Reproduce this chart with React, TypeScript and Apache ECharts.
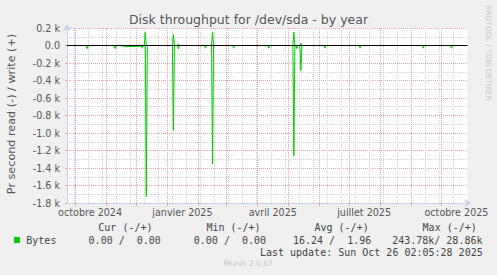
import React, { useEffect, useRef } from 'react';
import * as echarts from 'echarts';

const TITLE = 'Disk throughput for /dev/sda - by year';
const Y_NAME = 'Pr second read (-) / write (+)';
const SIDE_TEXT = 'RRDTOOL / TOBI OETIKER';
const VERSION = 'Munin 2.0.67';
const LAST_UPDATE = 'Last update: Sun Oct 26 02:05:28 2025';

const X_START = '2024-09-23';
const X_END = '2025-10-27';

// read (plotted negative), bytes per second
const readDates = [
  '2024-09-23', '2024-10-12', '2024-10-13', '2024-10-14',
  '2024-11-09', '2024-11-10', '2024-11-11',
  '2024-11-17', '2024-11-18', '2024-12-05', '2024-12-06', '2024-12-07', '2024-12-08',
  '2024-12-10', '2024-12-11', '2024-12-12',
  '2025-01-06', '2025-01-07', '2025-01-08',
  '2025-01-11', '2025-01-12', '2025-01-13',
  '2025-02-07', '2025-02-08', '2025-02-09',
  '2025-02-14', '2025-02-15', '2025-02-16',
  '2025-03-07', '2025-03-08', '2025-03-09',
  '2025-04-11', '2025-04-12', '2025-04-13',
  '2025-05-06', '2025-05-07', '2025-05-08',
  '2025-05-09', '2025-05-10', '2025-05-11',
  '2025-05-13', '2025-05-14', '2025-05-15',
  '2025-06-06', '2025-06-07', '2025-06-08',
  '2025-07-11', '2025-07-12', '2025-07-13',
  '2025-09-12', '2025-09-13', '2025-09-14',
  '2025-10-10', '2025-10-11', '2025-10-12',
  '2025-10-26',
];
const readValues = [
  0, 0, 35, 0,
  0, 35, 0,
  0, 10, 10, 0, 30, 0,
  0, 1725, 0,
  0, 970, 0,
  0, 40, 0,
  0, 30, 0,
  0, 1355, 0,
  0, 30, 0,
  0, 30, 0,
  0, 1260, 0,
  0, 35, 0,
  0, 285, 0,
  0, 30, 0,
  0, 30, 0,
  0, 30, 0,
  0, 30, 0,
  0,
];

// write (plotted positive)
const writeDates = [
  '2024-09-23',
  '2024-12-09', '2024-12-10', '2024-12-11',
  '2025-01-06', '2025-01-07', '2025-01-08',
  '2025-01-11', '2025-01-12', '2025-01-13',
  '2025-02-14', '2025-02-15', '2025-02-16',
  '2025-05-06', '2025-05-07', '2025-05-08',
  '2025-05-13', '2025-05-14', '2025-05-15',
  '2025-10-26',
];
const writeValues = [
  0,
  0, 150, 0,
  0, 123, 0,
  0, 20, 0,
  0, 154, 0,
  0, 154, 0,
  0, 28, 0,
  0,
];

const Y_MIN = -1800;
const Y_MAX = 200;
const Y_STEP = 200;

const monthStarts = [
  '2024-10-01', '2024-11-01', '2024-12-01', '2025-01-01', '2025-02-01', '2025-03-01',
  '2025-04-01', '2025-05-01', '2025-06-01', '2025-07-01', '2025-08-01', '2025-09-01', '2025-10-01',
];
const MINOR_GRID_START = '2024-09-30';
const MINOR_GRID_DAYS = 14;

const labelDates = ['2024-10-16', '2025-01-16', '2025-04-16', '2025-07-16', '2025-10-16'];
const labelTexts = ['octobre 2024', 'janvier 2025', 'avril 2025', 'juillet 2025', 'octobre 2025'];

const statHeaders = ['Cur (-/+)', 'Min (-/+)', 'Avg (-/+)', 'Max (-/+)'];
const readStats = ['0.00', '0.00', '16.24', '243.78k'];
const writeStats = ['0.00', '0.00', '1.96', '28.86k'];
const SERIES_NAME = 'Bytes';

// day number since epoch
const t = (s: string) => {
  const [y, m, d] = s.split('-').map(Number);
  return Date.UTC(y, m - 1, d) / 86400000;
};

const GREEN = '#00cc00';
const AXIS = '#c8d0f0';
const RED_GRID = '#e8a4a4';
const GRAY_GRID = '#d2d2d2';
const TEXT = '#555555';
const SANS = '"DejaVu Sans", sans-serif';
const MONO = '"DejaVu Sans Mono", monospace';

export default function App() {
  const ref = useRef<HTMLDivElement>(null);

  useEffect(() => {
    if (!ref.current) return;
    const chart = echarts.init(ref.current, null, { renderer: 'svg' });

    const xmin = t(X_START);
    const xmax = t(X_END);
    const minorGrid: number[] = [];
    for (let v = t(MINOR_GRID_START); v < xmax; v += MINOR_GRID_DAYS) minorGrid.push(v);
    const labelVals = labelDates.map(t);

    const cw = 6.02;
    const graphics: any[] = [];
    const txt = (x: number, y: number, text: string, font: string, fill: string, align = 'left', extra: any = {}) => ({
      type: 'text',
      x,
      y,
      silent: true,
      ...extra,
      style: { text, font, fill, align, verticalAlign: 'middle', textAlign: align, textVerticalAlign: 'middle' },
    });

    graphics.push(txt(248.5, 19.5, TITLE, `12.5px ${SANS}`, TEXT, 'center'));
    graphics.push(txt(11, 114, Y_NAME, `11.2px ${SANS}`, TEXT, 'center', { rotation: Math.PI / 2 }));
    graphics.push(txt(488, 53, SIDE_TEXT, `7.4px ${SANS}`, '#c4c4c4', 'center', { rotation: -Math.PI / 2 }));

    statHeaders.forEach((h, i) => {
      graphics.push(txt(98.3 + 108.1 * i, 227.5, h, `10px ${MONO}`, '#444', 'left'));
    });
    graphics.push({
      type: 'rect',
      silent: true,
      shape: { x: 14, y: 237, width: 6, height: 6 },
      style: { fill: GREEN },
    });
    graphics.push(txt(26.3, 240, SERIES_NAME, `10px ${MONO}`, '#444', 'left'));
    for (let i = 0; i < 4; i++) {
      const slashX = 118.7 + 105.2 * i;
      const r = readStats[i];
      const w = writeStats[i];
      const rk = r.endsWith('k');
      const wk = w.endsWith('k');
      graphics.push(txt(slashX - (rk ? 0 : cw), 240, r, `10px ${MONO}`, '#444', 'right'));
      graphics.push(txt(slashX, 240, '/', `10px ${MONO}`, '#444', 'left'));
      graphics.push(txt(slashX + 7 * cw + (wk ? cw : 0), 240, w, `10px ${MONO}`, '#444', 'right'));
    }
    graphics.push(txt(482.7, 252, LAST_UPDATE, `10px ${MONO}`, '#444', 'right'));
    graphics.push(txt(248.3, 263.5, VERSION, `7.5px ${SANS}`, '#c4c4c4', 'center'));

    chart.setOption({
      animation: false,
      backgroundColor: '#f0f0f0',
      grid: {
        left: 67,
        top: 28,
        right: 29.5,
        height: 175,
        show: true,
        backgroundColor: '#ffffff',
        borderWidth: 0,
      },
      xAxis: [
        {
          type: 'value',
          min: xmin,
          max: xmax,
          position: 'bottom',
          axisLine: { show: false },
          axisLabel: { show: false },
          axisTick: { show: true, length: 3, customValues: minorGrid, lineStyle: { color: GRAY_GRID } },
          splitLine: { show: true, lineStyle: { color: GRAY_GRID, width: 1, type: [1, 1] } },
        },
        {
          type: 'value',
          min: xmin,
          max: xmax,
          position: 'bottom',
          axisLine: {
            show: true,
            lineStyle: { color: AXIS, width: 1 },
            symbol: ['none', 'arrow'],
            symbolSize: [6, 7],
            symbolOffset: [0, 4],
          },
          axisTick: { show: true, length: 3, customValues: monthStarts.map(t), lineStyle: { color: RED_GRID } },
          axisLabel: {
            show: true,
            customValues: labelVals,
            formatter: (v: number) => {
              const i = labelVals.indexOf(v);
              return i >= 0 ? labelTexts[i] : '';
            },
            color: TEXT,
            fontFamily: SANS,
            fontSize: 9.6,
            margin: 4,
          },
          splitLine: { show: true, lineStyle: { color: RED_GRID, width: 1, type: [1, 1] } },
        },
      ],
      yAxis: {
        type: 'value',
        min: Y_MIN,
        max: Y_MAX,
        interval: Y_STEP,
        axisLine: {
          show: true,
          lineStyle: { color: AXIS, width: 1 },
          symbol: ['none', 'arrow'],
          symbolSize: [6, 7],
          symbolOffset: [0, 4],
        },
        axisTick: { show: true, length: 2, lineStyle: { color: RED_GRID } },
        axisLabel: {
          color: TEXT,
          fontFamily: SANS,
          fontSize: 9.6,
          margin: 7,
          formatter: (v: number) => (v === 0 ? '0.0' : (v / 1000).toFixed(1) + ' k'),
        },
        splitLine: { show: true, lineStyle: { color: RED_GRID, width: 1, type: [1, 1] } },
        minorTick: { show: false, splitNumber: 2 },
        minorSplitLine: { show: true, lineStyle: { color: GRAY_GRID, width: 1, type: [1, 1] } },
      },
      series: [
        {
          type: 'line',
          name: 'read',
          xAxisIndex: 1,
          data: readDates.map((d, i) => [t(d), -readValues[i]]),
          symbol: 'none',
          silent: true,
          lineStyle: { color: GREEN, width: 1 },
          z: 3,
        },
        {
          type: 'line',
          name: 'write',
          xAxisIndex: 1,
          data: writeDates.map((d, i) => [t(d), writeValues[i]]),
          symbol: 'none',
          silent: true,
          lineStyle: { color: GREEN, width: 1 },
          z: 3,
          markLine: {
            silent: true,
            symbol: ['none', 'none'],
            label: { show: false },
            lineStyle: { color: '#000000', width: 1, type: 'solid' },
            data: [{ yAxis: 0 }],
          },
        },
      ],
      graphic: graphics,
    });

    return () => chart.dispose();
  }, []);

  return (
    <div
      ref={ref}
      style={{ position: 'absolute', left: 0, top: 0, width: 497, height: 275, background: '#f0f0f0' }}
    />
  );
}
